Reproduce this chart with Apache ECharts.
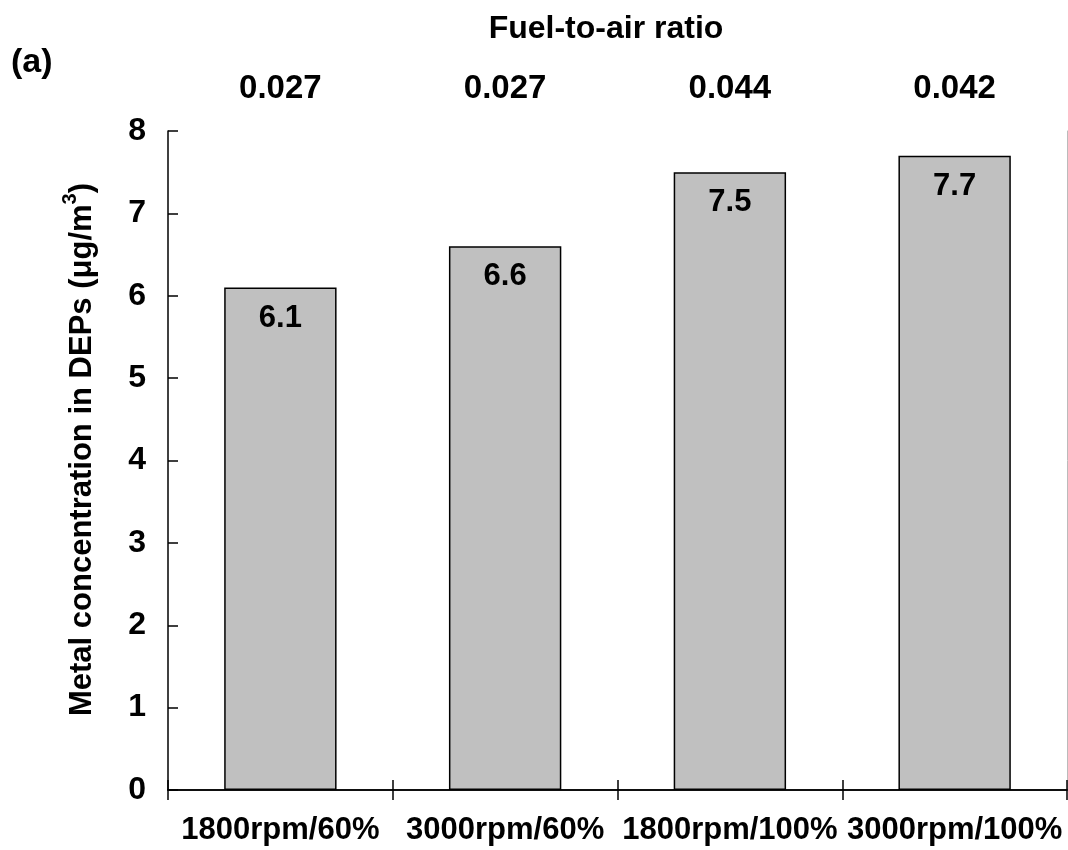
<!DOCTYPE html>
<html>
<head>
<meta charset="utf-8">
<script src="https://cdn.jsdelivr.net/npm/echarts@6/dist/echarts.min.js"></script>
<style>
  html, body { margin: 0; padding: 0; background: #fff; }
  #chart { width: 1068px; height: 850px; }
</style>
</head>
<body>
<div id="chart"></div>
<script>
// Engine operating conditions (speed / load)
const categories = ['1800rpm/60%', '3000rpm/60%', '1800rpm/100%', '3000rpm/100%'];
// Fuel-to-air ratio for each condition (top axis)
const fuelToAir = ['0.027', '0.027', '0.044', '0.042'];
// Metal concentration in DEPs, µg/m³
const metalConc = [6.1, 6.6, 7.5, 7.7];

const FONT = "'Liberation Sans', Arial, Helvetica, sans-serif";
const AX = { color: '#000', width: 1.5 };

const chart = echarts.init(document.getElementById('chart'), null, { renderer: 'canvas' });

chart.setOption({
  animation: false,
  backgroundColor: '#fff',
  grid: { left: 168, right: 1, top: 131, bottom: 60, containLabel: false },
  graphic: [
    {
      type: 'text', left: 11, top: 46,
      style: { text: '(a)', font: 'bold 34px ' + FONT, fill: '#000' }
    },
    {
      type: 'text', x: 606, y: 29,
      style: {
        text: 'Fuel-to-air ratio', font: 'bold 32px ' + FONT, fill: '#000',
        textAlign: 'center', textVerticalAlign: 'middle'
      }
    }
  ],
  xAxis: [
    {
      type: 'category', data: categories, position: 'bottom',
      axisLine: { lineStyle: AX },
      axisTick: { show: true, inside: false, length: 10, lineStyle: AX },
      axisLabel: {
        margin: 25, color: '#000', fontFamily: FONT, fontWeight: 'bold', fontSize: 31,
        interval: 0
      },
      splitLine: { show: false }
    },
    {
      type: 'category', data: fuelToAir, position: 'top',
      axisLine: { lineStyle: AX },
      axisTick: { show: true, inside: false, length: 10, lineStyle: AX },
      axisLabel: {
        margin: 26, color: '#000', fontFamily: FONT, fontWeight: 'bold', fontSize: 33,
        interval: 0
      },
      splitLine: { show: false }
    },
    {
      // inner half of the crossing ticks on the bottom axis
      type: 'category', data: categories, position: 'bottom',
      axisLine: { show: false },
      axisTick: { show: true, inside: true, length: 8, lineStyle: AX },
      axisLabel: { show: false },
      splitLine: { show: false }
    }
  ],
  yAxis: [
    {
      type: 'value', min: 0, max: 8, interval: 1,
      axisLine: { show: true, lineStyle: AX },
      axisTick: { show: true, inside: true, length: 10, lineStyle: AX },
      axisLabel: {
        margin: 22, color: '#000', fontFamily: FONT, fontWeight: 'bold', fontSize: 32
      },
      splitLine: { show: false },
      name: '{t|Metal concentration in DEPs (μg/m}{s|3}{t|)}',
      nameLocation: 'middle',
      nameRotate: 90,
      nameGap: 70,
      nameTextStyle: {
        padding: [0, 0, 0, 22],
        rich: {
          t: { fontFamily: FONT, fontWeight: 'bold', fontSize: 31, color: '#000', lineHeight: 38, verticalAlign: 'bottom' },
          s: { fontFamily: FONT, fontWeight: 'bold', fontSize: 20, color: '#000', lineHeight: 38, verticalAlign: 'top' }
        }
      }
    },
    {
      type: 'value', min: 0, max: 8, interval: 1, position: 'right',
      axisLine: { show: true, lineStyle: { color: '#bbb', width: 1 } },
      axisTick: { show: false },
      axisLabel: { show: false },
      splitLine: { show: false }
    }
  ],
  series: [
    {
      type: 'bar',
      data: metalConc,
      xAxisIndex: 0,
      yAxisIndex: 0,
      barWidth: '50%',
      itemStyle: { color: '#c0c0c0', borderColor: '#000', borderWidth: 1.5 },
      label: {
        show: true,
        position: 'insideTop',
        distance: 15,
        color: '#000',
        fontFamily: FONT,
        fontWeight: 'bold',
        fontSize: 31,
        formatter: p => p.value.toFixed(1)
      }
    }
  ]
});
</script>
</body>
</html>
